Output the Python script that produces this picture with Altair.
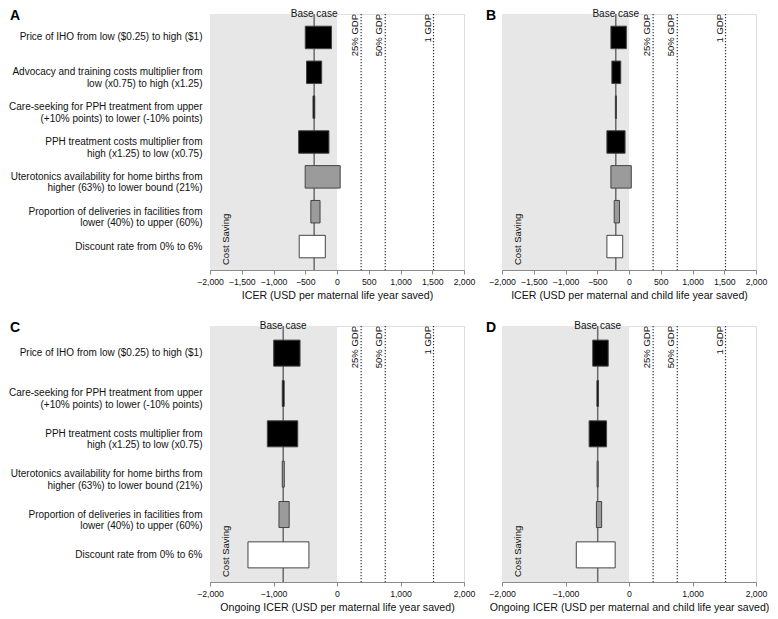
import altair as alt
import pandas as pd

FONT = "Liberation Sans"
W, H = 254, 256

# ---------------- data ----------------
labels_AB = [
    "Price of IHO from low ($0.25) to high ($1)",
    "Advocacy and training costs multiplier from|low (x0.75) to high (x1.25)",
    "Care-seeking for PPH treatment from upper|(+10% points) to lower (-10% points)",
    "PPH treatment costs multiplier from|high (x1.25) to low (x0.75)",
    "Uterotonics availability for home births from|higher (63%) to lower bound (21%)",
    "Proportion of deliveries in facilities from|lower (40%) to upper (60%)",
    "Discount rate from 0% to 6%",
]
kinds_AB = ["cost", "cost", "cost", "cost", "coverage", "coverage", "discount"]

labels_CD = [
    "Price of IHO from low ($0.25) to high ($1)",
    "Care-seeking for PPH treatment from upper|(+10% points) to lower (-10% points)",
    "PPH treatment costs multiplier from|high (x1.25) to low (x0.75)",
    "Uterotonics availability for home births from|higher (63%) to lower bound (21%)",
    "Proportion of deliveries in facilities from|lower (40%) to upper (60%)",
    "Discount rate from 0% to 6%",
]
kinds_CD = ["cost", "cost", "cost", "coverage", "coverage", "discount"]

A_low = [-500, -480, -378, -604, -501, -412, -595]
A_high = [-86, -241, -350, -127, 50, -267, -184]
A_base = -360

B_low = [-285, -270, -215, -348, -285, -233, -348]
B_high = [-42, -130, -198, -62, 36, -150, -99]
B_base = -208

C_low = [-997, -862, -1097, -862, -914, -1402]
C_high = [-582, -832, -618, -830, -753, -442]
C_base = -847

D_low = [-571, -505, -628, -502, -513, -830]
D_high = [-327, -480, -353, -486, -431, -218]
D_base = -493

gdp_values = [380, 760, 1520]
gdp_labels = ["25% GDP", "50% GDP", "1 GDP"]
cost_saving = [-2000, 0]
x_domain = [-2000, 2000]

titles = {
    "A": "ICER (USD per maternal life year saved)",
    "B": "ICER (USD per maternal and child life year saved)",
    "C": "Ongoing ICER (USD per maternal life year saved)",
    "D": "Ongoing ICER (USD per maternal and child life year saved)",
}


def panel(letter, labels, kinds, lows, highs, base, step, show_labels, letter_x):
    df = pd.DataFrame({"param": labels, "low": lows, "high": highs, "kind": kinds})
    xs = alt.Scale(domain=x_domain, nice=False, zero=False)
    ticks = list(range(x_domain[0], x_domain[1] + 1, step))
    xaxis = alt.Axis(values=ticks, format=",d", title=titles[letter], labelOverlap=False,
                     labelFlush=False, labelFontSize=8.7, grid=False, tickSize=4,
                     labelPadding=3, titlePadding=5)

    def X(field):
        return alt.X(field, scale=xs, axis=xaxis)

    if show_labels:
        yaxis = alt.Axis(title=None, ticks=False, domain=True, labelExpr="split(datum.label, '|')",
                         labelLimit=0, labelPadding=8, labelFontSize=10, labelLineHeight=11.5,
                         labelAlign="right")
    else:
        yaxis = alt.Axis(title=None, ticks=False, domain=True, labels=False)
    ys = alt.Scale(paddingInner=0.355, paddingOuter=0.35)

    shade = alt.Chart(pd.DataFrame({"x": [cost_saving[0]], "x2": [cost_saving[1]]})).mark_rect(
        color="#e7e7e7").encode(
        x=X("x:Q"), x2="x2:Q",
        y=alt.value(0), y2=alt.value(H))

    bdf = pd.DataFrame({"base": [base], "t": ["Base case"]})
    baseline = alt.Chart(bdf).mark_rule(color="#6a6a6a", strokeWidth=1.5).encode(
        x=X("base:Q"), y=alt.value(0), y2=alt.value(H))
    basetext = alt.Chart(bdf).mark_text(fontSize=10, baseline="alphabetic", align="center",
                                        color="#111").encode(
        x=X("base:Q"), y=alt.value(3), text="t:N")

    gdf = pd.DataFrame({"g": gdp_values, "lab": gdp_labels})
    gdp = alt.Chart(gdf).mark_rule(color="#333", strokeWidth=1.2, strokeDash=[1.3, 1.7]).encode(
        x=X("g:Q"), y=alt.value(0), y2=alt.value(H))
    gdptext = alt.Chart(gdf).mark_text(fontSize=9.5, angle=270, align="right", baseline="bottom",
                                       color="#111", dy=-1).encode(
        x=X("g:Q"), y=alt.value(0), text="lab:N")

    bars = alt.Chart(df).mark_bar(stroke="#444", strokeWidth=1).encode(
        y=alt.Y("param:N", sort=labels, scale=ys, axis=yaxis),
        x=X("low:Q"), x2="high:Q",
        fill=alt.Fill("kind:N", scale=alt.Scale(domain=["cost", "coverage", "discount"],
                                                 range=["#000000", "#9b9b9b", "#ffffff"]),
                      legend=None))

    cs = alt.Chart(pd.DataFrame({"t": ["Cost Saving"]})).mark_text(
        fontSize=9.5, angle=270, align="left", baseline="alphabetic", color="#111").encode(
        x=alt.value(19), y=alt.value(H - 5), text="t:N")

    let = alt.Chart(pd.DataFrame({"t": [letter]})).mark_text(
        fontSize=14, fontWeight="bold", align="left", baseline="top", color="#000").encode(
        x=alt.value(letter_x), y=alt.value(-5), text="t:N")

    return alt.layer(shade, baseline, bars, gdp, gdptext, basetext, cs, let).properties(
        width=W, height=H)


pA = panel("A", labels_AB, kinds_AB, A_low, A_high, A_base, 500, True, -200)
pB = panel("B", labels_AB, kinds_AB, B_low, B_high, B_base, 500, False, -16)
pC = panel("C", labels_CD, kinds_CD, C_low, C_high, C_base, 1000, True, -200)
pD = panel("D", labels_CD, kinds_CD, D_low, D_high, D_base, 1000, False, -16)

chart = alt.concat(pA, pB, pC, pD, columns=2, spacing={"row": 56, "column": 38},
                   bounds="flush").properties(
    padding={"left": 0, "top": 0, "right": 0, "bottom": 2}
).configure_view(stroke=None).configure(font=FONT).configure_axis(
    domainColor="#8a8a8a", tickColor="#8a8a8a", labelColor="#111", titleColor="#111",
    labelFont=FONT, titleFont=FONT, labelFontSize=10, titleFontSize=10.6,
    titleFontWeight="normal"
).configure_text(font=FONT)

chart.save("out.html", embed_options={"renderer": "svg", "actions": False})
